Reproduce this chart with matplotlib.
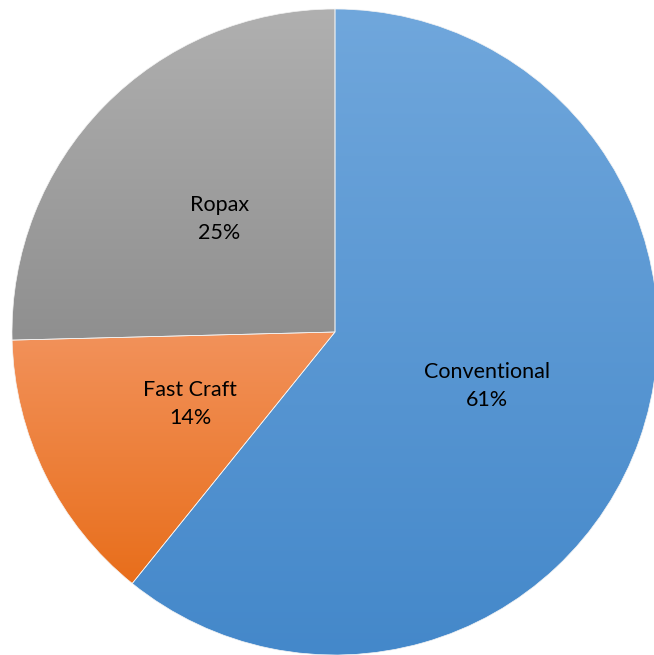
import numpy as np
from matplotlib import pyplot as plt
from matplotlib.colors import LinearSegmentedColormap

plt.rcParams['font.family'] = ['Lato', 'DejaVu Sans']

categories = ['Conventional', 'Fast Craft', 'Ropax']
shares = [60.8, 13.8, 25.4]
# top / bottom colour of each slice's vertical gradient
top_colors = ['#70a7dc', '#f2925b', '#b0b0b0']
bottom_colors = ['#4488ca', '#e86e1b', '#8f8f8f']

fig = plt.figure(figsize=(6.54, 6.55), dpi=100)
ax = fig.add_axes([0, 0, 1, 1])

wedges, _ = ax.pie(shares, center=(335, 323), radius=323, startangle=90,
                   counterclock=False, frame=True,
                   wedgeprops=dict(edgecolor='#f4f4f4', linewidth=0.5))

total = sum(shares)
theta = 90
for w, name, share, c_top, c_bot in zip(wedges, categories, shares, top_colors, bottom_colors):
    # gradient fill clipped to the wedge
    ext = w.get_path().get_extents()
    cmap = LinearSegmentedColormap.from_list('g', [c_bot, c_top])
    grad = np.linspace(0, 1, 256).reshape(-1, 1)
    im = ax.imshow(grad, cmap=cmap, origin='lower', aspect='auto',
                   extent=[ext.x0, ext.x1, ext.y0, ext.y1], zorder=1)
    im.set_clip_path(w)
    w.set_facecolor('none')
    w.set_zorder(2)
    span = 360 * share / total
    mid = np.deg2rad(theta - span / 2)
    theta -= span
    ax.text(335 + 0.5 * 323 * np.cos(mid), 323 + 0.5 * 323 * np.sin(mid),
            f'{name}\n{share / total * 100:.0f}%', ha='center', va='center',
            fontsize=15.5, color='black', linespacing=1.5, zorder=3)

ax.set_xlim(0, 654)
ax.set_ylim(0, 655)
ax.set_aspect('equal')
ax.axis('off')
fig.savefig('out.png', dpi=100)
